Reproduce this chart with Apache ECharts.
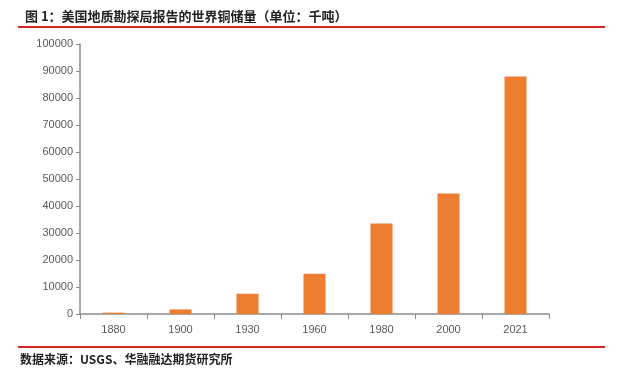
<!DOCTYPE html>
<html><head><meta charset="utf-8">
<script src="https://cdn.jsdelivr.net/npm/echarts@6/dist/echarts.min.js"></script>
<style>html,body{margin:0;padding:0;background:#fff}#c{width:620px;height:378px}</style>
</head><body><div id="c"></div>
<script>
const titleText = '图 1：美国地质勘探局报告的世界铜储量（单位：千吨）';
const sourceText = '数据来源：USGS、华融融达期货研究所';
const categories = ['1880','1900','1930','1960','1980','2000','2021'];
const reserves = [500, 1700, 7500, 14900, 33500, 44600, 88000];

const chart = echarts.init(document.getElementById('c'), null, {renderer:'canvas'});
chart.setOption({
  backgroundColor:'#fff',
  animation:false,
  title:{text:titleText,left:20,top:5,textStyle:{fontFamily:'Noto Sans CJK SC',fontSize:13,fontWeight:'bold',color:'#222'}},
  graphic:[
    {type:'line',shape:{x1:18,y1:27,x2:605,y2:27},style:{stroke:'#d7261e',lineWidth:2}},
    {type:'line',shape:{x1:18,y1:347,x2:605,y2:347},style:{stroke:'#d7261e',lineWidth:2}},
    {type:'text',left:20,top:353,style:{text:sourceText,font:'bold 12px "Noto Sans CJK SC"',fill:'#222'}}
  ],
  grid:{left:80,right:71,top:44,bottom:64},
  xAxis:{type:'category',data:categories,
    axisLine:{lineStyle:{color:'#8c8c8c',width:1.5}},
    axisTick:{show:true,length:5,lineStyle:{color:'#8c8c8c'}},
    axisLabel:{color:'#595959',fontSize:11,fontFamily:'Liberation Sans',margin:10}},
  yAxis:{type:'value',min:0,max:100000,interval:10000,
    axisLine:{show:true,lineStyle:{color:'#8c8c8c',width:1.5}},
    axisTick:{show:true,length:4,lineStyle:{color:'#8c8c8c'}},
    splitLine:{show:false},
    axisLabel:{color:'#595959',fontSize:11,fontFamily:'Liberation Sans',margin:7,formatter:v=>String(v)}},
  series:[{type:'bar',data:reserves,barWidth:22,itemStyle:{color:'#ed7d31'}}]
});
</script></body></html>
